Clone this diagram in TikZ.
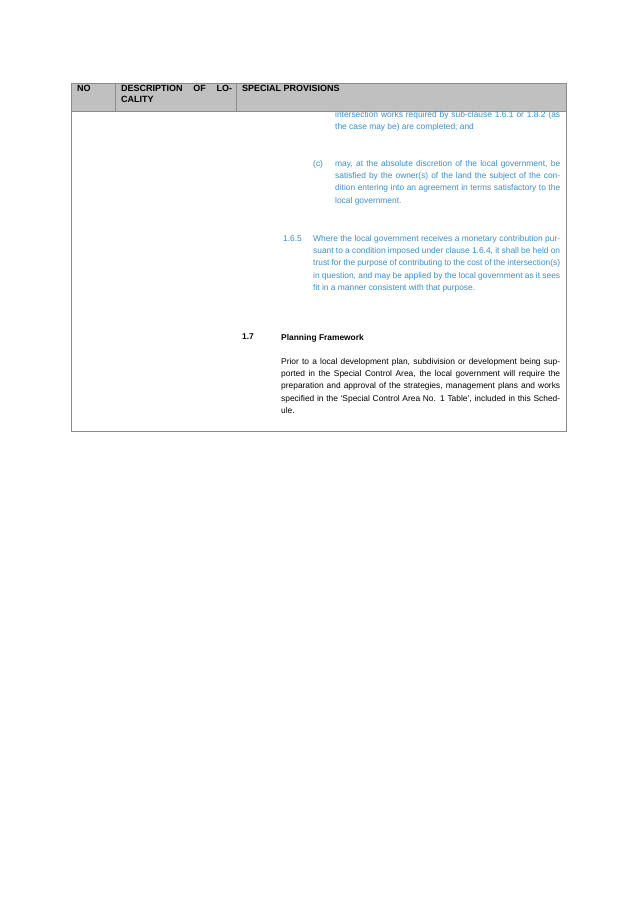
\documentclass[tikz,border=0pt]{standalone}
\usepackage{fontspec}
\setmainfont{Liberation Sans}
\definecolor{blu}{HTML}{3A8FD0}
\definecolor{hdr}{HTML}{C0C0C0}
\definecolor{rule}{HTML}{8C8C8C}
\begin{document}
\begin{tikzpicture}[x=1pt,y=-1pt,
 txt/.style={anchor=north west,inner sep=0pt,align=justify,font=\fontsize{8.4}{12.3}\selectfont},
 bl/.style={txt,text=blu},
 hd/.style={anchor=north west,inner sep=0pt,font=\fontsize{9}{11}\selectfont\bfseries}]
\useasboundingbox (0,0) rectangle (637,901);
\fill[white] (0,0) rectangle (637,901);
\fill[hdr] (71,83) rectangle (566,111);
\draw[rule,line width=0.6pt] (71,83) rectangle (566,111);
\draw[rule,line width=0.6pt] (115,83) -- (115,111) (236,83) -- (236,111);
\draw[rule,line width=0.6pt] (71,111) -- (71,431) -- (566,431) -- (566,111);
\node[hd] (no) at (77,85) {NO};
\node[hd,text width=111pt,align=justify] (desc) at (121,85) {DESCRIPTION OF LOCALITY};
\node[hd] (sp) at (242,85) {SPECIAL PROVISIONS};
\node[bl,text width=225pt] (b1) at (335,111) {intersection works required by sub-clause 1.6.1 or 1.8.2 (as the case may be) are completed; and};
\node[bl] (c) at (313,160) {(c)};
\node[bl,text width=225pt] (c1) at (335,160) {may, at the absolute discretion of the local government, be satisfied by the owner(s) of the land the subject of the condition entering into an agreement in terms satisfactory to the local government.};
\node[bl] (n165) at (283,235) {1.6.5};
\node[bl,text width=247pt] (d1) at (313,235) {Where the local government receives a monetary contribution pursuant to a condition imposed under clause 1.6.4, it shall be held on trust for the purpose of contributing to the cost of the intersection(s) in question, and may be applied by the local government as it sees fit in a manner consistent with that purpose.};
\node[txt,font=\fontsize{8.4}{12.3}\selectfont\bfseries] (n17) at (242,334) {1.7};
\node[txt,font=\fontsize{8.4}{12.3}\selectfont\bfseries] (pf) at (281,334) {Planning Framework};
\node[txt,text width=279pt] (p1) at (281,358) {Prior to a local development plan, subdivision or development being supported in the Special Control Area, the local government will require the preparation and approval of the strategies, management plans and works specified in the `Special Control Area No. 1 Table', included in this Schedule.};
\end{tikzpicture}
\end{document}
